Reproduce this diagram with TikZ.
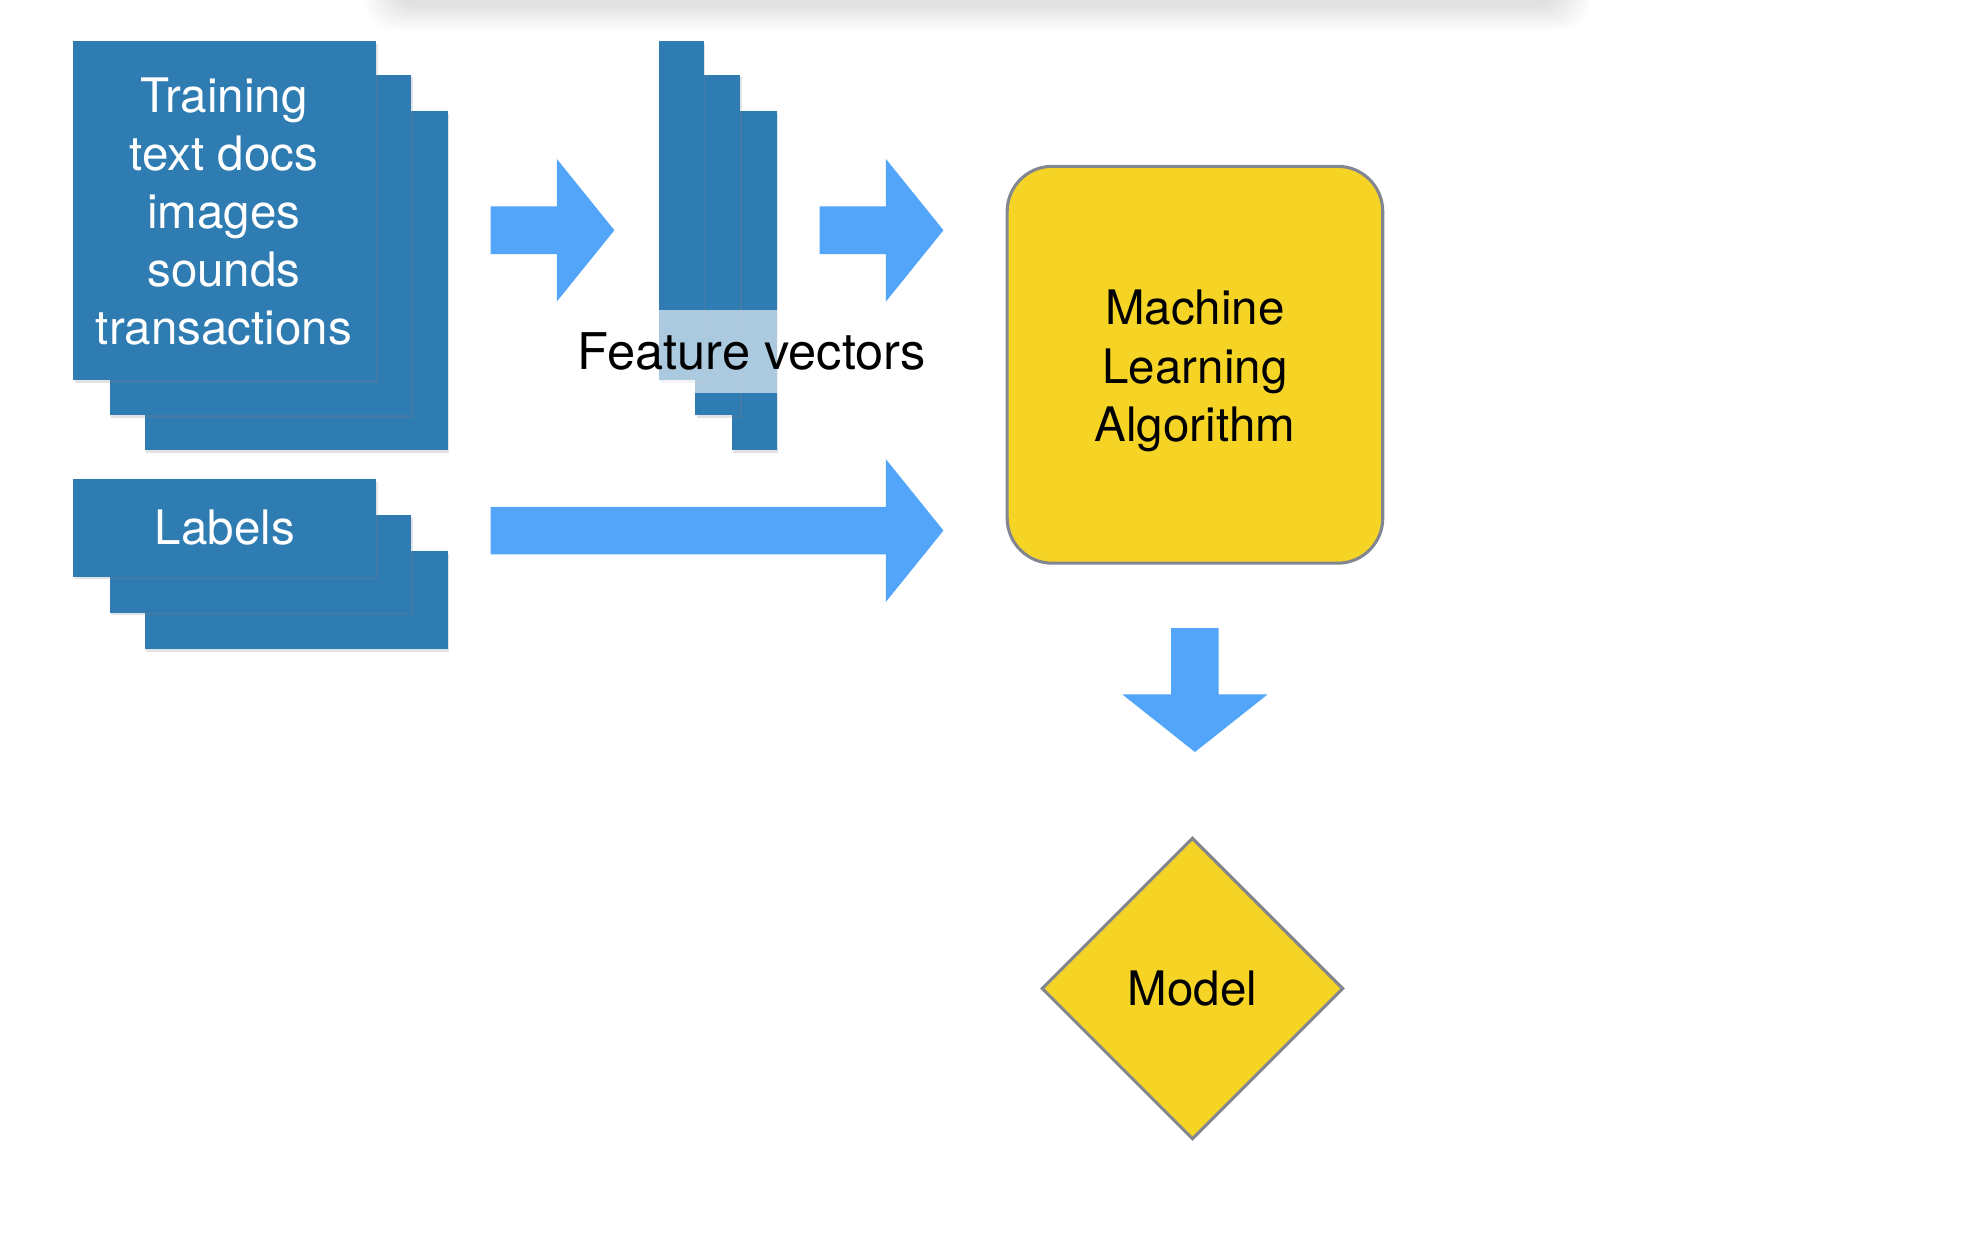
\documentclass[tikz,border=0pt]{standalone}
\usepackage{fontspec}
\setmainfont{TeX Gyre Heros}
\usetikzlibrary{shapes.geometric,shadows}
\definecolor{docblue}{RGB}{46,124,178}
\definecolor{flowblue}{RGB}{82,165,248}
\definecolor{algoyellow}{RGB}{245,212,38}
\definecolor{edgegray}{RGB}{130,134,144}
% right-pointing block arrow: tail x, centre y, tip x
\newcommand\flowright[3]{%
  \fill[flowblue] (#1,#2-19) -- (#3-46,#2-19) -- (#3-46,#2-57) -- (#3,#2)
    -- (#3-46,#2+57) -- (#3-46,#2+19) -- (#1,#2+19) -- cycle;}
\begin{document}
\begin{tikzpicture}[x=0.01cm,y=-0.01cm,
  sheet/.style={fill=docblue, draw=none, inner sep=0pt, anchor=north west,
    drop shadow={shadow xshift=0.3pt, shadow yshift=-0.6pt, opacity=0.22}},
  bodytext/.style={font=\fontsize{10.8}{13.2}\selectfont, align=center},
  whitetext/.style={bodytext, text=white},
  algo/.style={bodytext, fill=algoyellow, draw=edgegray, line width=0.7pt},
]
\useasboundingbox (0,0) rectangle (1568,1002);

% soft shadow along the top edge
\foreach \i in {0,...,14}
  \fill[black, opacity=0.006, rounded corners=0.25cm]
    (312-\i*1.5,-60) rectangle (1250+\i*1.5,5+\i*1.4);

% stack of training documents
\node[sheet, minimum width=2.42cm, minimum height=2.71cm] (train3) at (115,88) {};
\node[sheet, minimum width=2.41cm, minimum height=2.72cm] (train2) at (87,59) {};
\node[sheet, minimum width=2.42cm, minimum height=2.71cm] (train1) at (58,32) {};
\node[whitetext] (traintext) at (179,169) {Training\\text docs\\images\\sounds\\transactions};

% stack of labels
\node[sheet, minimum width=2.42cm, minimum height=0.78cm] (lab3) at (115,440) {};
\node[sheet, minimum width=2.41cm, minimum height=0.78cm] (lab2) at (87,411) {};
\node[sheet, minimum width=2.42cm, minimum height=0.78cm] (lab1) at (58,382) {};
\node[whitetext] (labtext) at (lab1.center) {Labels};

% feature vectors
\node[sheet, minimum width=0.36cm, minimum height=2.71cm] (fv3) at (584,88) {};
\node[sheet, minimum width=0.36cm, minimum height=2.72cm] (fv2) at (555,59) {};
\node[sheet, minimum width=0.36cm, minimum height=2.71cm] (fv1) at (526,32) {};
\node[bodytext, font=\fontsize{11.5}{13.8}\selectfont, fill=white, fill opacity=0.6,
      text opacity=1, minimum height=0.66cm, inner xsep=4pt] (fvtext) at (601,281)
  {Feature vectors};

% flow arrows
\flowright{392}{184}{491}
\flowright{655}{184}{754}
\flowright{392}{424}{754}

% learning algorithm
\node[algo, rounded corners=0.36cm, minimum width=3.0cm, minimum height=3.17cm] (mla)
  at (955,291.5) {};
\node[bodytext] (mlatext) at ([yshift=-1.4pt]mla.center) {Machine\\Learning\\Algorithm};

% arrow down to the model
\fill[flowblue] (936,502) -- (974,502) -- (974,555) -- (1013,555) -- (955,601)
  -- (897,555) -- (936,555) -- cycle;

% resulting model
\node[algo, diamond, aspect=1, inner sep=0pt, minimum width=2.41cm, minimum height=2.41cm]
  (model) at (953,790) {Model};
\end{tikzpicture}
\end{document}
